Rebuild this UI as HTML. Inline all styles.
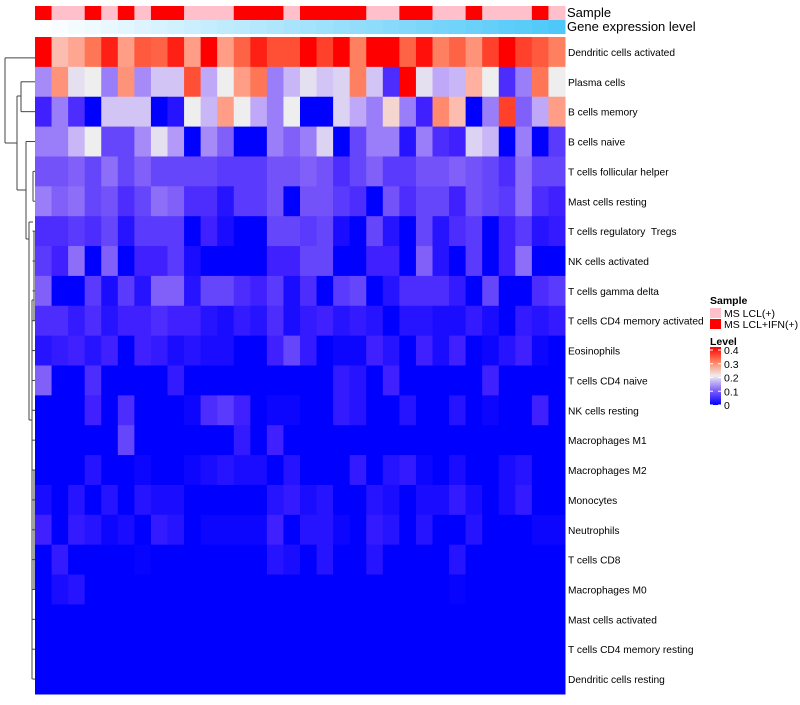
<!DOCTYPE html>
<html><head><meta charset="utf-8"><style>
body{margin:0;background:#fff;font-family:"Liberation Sans",sans-serif;}
svg text{font-family:"Liberation Sans",sans-serif;white-space:pre;}
</style></head><body>
<svg id="chart" width="800" height="700" viewBox="0 0 800 700" xmlns="http://www.w3.org/2000/svg">
<g id="dendro" fill="none" stroke="#444" stroke-width="1"></g>
<g id="cells"></g>
<g id="ann"></g>
<g id="labels" font-size="10.2" fill="#000"></g>
<text x="567" y="17" font-size="13">Sample</text>
<text x="567" y="31" font-size="13">Gene expression level</text>
<g font-size="10.5">
<text x="710" y="304" font-weight="bold">Sample</text>
<rect x="710" y="308" width="11" height="10" fill="#ffc0cb"/>
<text x="724" y="317">MS LCL(+)</text>
<rect x="710" y="319" width="11" height="10" fill="#ff0000"/>
<text x="724" y="328">MS LCL+IFN(+)</text>
<text x="710" y="345" font-weight="bold">Level</text>
<defs><linearGradient id="lg" x1="0" y1="1" x2="0" y2="0">
<stop offset="0" stop-color="#0000ff"/><stop offset="0.25" stop-color="#8060f8"/><stop offset="0.5" stop-color="#eeeeee"/><stop offset="0.75" stop-color="#ff8060"/><stop offset="1" stop-color="#ff0000"/></linearGradient></defs>
<rect x="710" y="347" width="11" height="58" fill="url(#lg)"/>
<g id="lticks"></g>
</g>
</svg>
<script>
const rowNames=["Dendritic cells activated","Plasma cells","B cells memory","B cells naive","T cells follicular helper","Mast cells resting","T cells regulatory  Tregs","NK cells activated","T cells gamma delta","T cells CD4 memory activated","Eosinophils","T cells CD4 naive","NK cells resting","Macrophages M1","Macrophages M2","Monocytes","Neutrophils","T cells CD8","Macrophages M0","Mast cells activated","T cells CD4 memory resting","Dendritic cells resting"];
const sampleGroups=[1,0,0,1,0,1,0,1,1,0,0,0,1,1,1,0,1,1,1,1,0,0,1,1,0,0,1,0,0,0,1,0];
const levelTicks=[0,0.1,0.2,0.3,0.4];
const z=[
[.4,.24,.26,.31,.38,.27,.34,.33,.38,.27,.4,.27,.33,.38,.35,.35,.4,.36,.4,.3,.4,.4,.33,.39,.3,.33,.28,.36,.4,.36,.34,.3],
[.13,.28,.19,.2,.12,.28,.13,.17,.17,.35,.15,.2,.27,.31,.12,.16,.19,.17,.18,.3,.17,.06,.4,.19,.15,.16,.25,.2,.06,.12,.31,.2],
[.05,.12,.06,0,.17,.17,.17,0,.03,.2,.16,.27,.2,.15,.12,.2,0,0,.18,.15,.12,.22,.12,.05,.29,.24,0,.12,.36,.1,.15,.27],
[.12,.12,.16,.2,.08,.08,.13,.19,.14,0,.13,.1,0,0,.12,.1,.12,.18,0,.08,.12,.12,.03,.12,.06,.05,.18,.16,0,.12,0,.07],
[.09,.09,.1,.08,.11,.08,.1,.08,.08,.08,.08,.07,.07,.07,.09,.09,.1,.09,.06,.08,.1,.07,.07,.09,.09,.1,.09,.08,.06,.11,.08,.08],
[.12,.1,.11,.08,.09,.06,.08,.11,.1,.06,.06,.03,.07,.07,.09,0,.09,.09,.07,.06,0,.09,.06,.08,.08,.05,.09,.08,.07,.11,.06,.05],
[.06,.06,.07,.06,.08,.03,.07,.07,.07,0,.05,.02,0,0,.08,.08,.07,.08,.02,0,.08,.03,0,.08,.03,.06,.07,0,.05,.07,.03,.04],
[.07,.05,.11,0,.1,0,.05,.05,.07,.02,0,0,0,0,.05,.05,.08,.08,0,0,.05,.05,0,.1,.03,0,.07,0,.05,.11,0,0],
[.1,0,0,.07,.02,.07,.03,.1,.1,.03,.08,.08,.06,.05,.07,.02,.06,0,.07,.08,0,.03,.06,.06,.06,.04,0,.08,0,0,.06,.07],
[.06,.06,.04,.06,.03,.05,.05,.06,.05,.05,.03,.02,.04,.03,.06,.02,.04,.05,.03,.04,.03,0,.03,.03,.02,.02,.04,.02,0,.04,.03,.04],
[.03,.04,.05,.03,.05,0,.05,.04,.02,.03,.02,.02,0,0,.05,.08,.04,0,.01,.01,.05,.03,0,.05,.02,.05,0,.01,.03,.05,.01,0],
[.1,0,0,.06,0,0,0,0,.04,0,0,0,0,0,0,0,0,0,.04,.03,0,.05,0,0,0,0,0,.05,0,0,0,0],
[0,0,0,.05,0,.06,0,0,0,.01,.06,.07,.05,0,.01,.01,0,0,.04,.03,0,0,.03,0,0,.03,0,.01,0,0,.05,0],
[0,0,0,0,0,.08,0,0,0,0,0,0,.04,0,.05,0,0,0,0,0,0,0,0,0,0,0,0,0,0,0,0,0],
[0,0,0,.03,0,0,.01,0,0,.01,.02,.03,.02,.02,0,.03,0,0,0,.04,0,.03,.04,.01,0,.02,0,0,.02,.03,0,0],
[.02,0,.03,0,.03,0,.03,.02,.02,0,0,0,0,0,.03,.04,.02,.03,0,0,.03,.02,0,.02,.02,.04,.02,0,.02,.04,0,0],
[.05,0,.04,.03,.01,.02,0,.04,.03,0,.01,.01,.01,.01,.05,0,.03,.03,.01,0,.04,.03,0,.03,0,0,.03,0,0,0,.01,.01],
[0,.04,0,0,0,0,.005,0,0,0,0,0,0,0,.03,.02,0,.03,0,0,.03,0,0,0,0,.03,0,0,0,0,0,0],
[0,.02,.03,0,0,0,0,0,0,0,0,0,0,0,0,0,0,0,0,0,0,0,0,0,0,.005,0,0,0,0,0,0],
[0,0,0,0,0,0,0,0,0,0,0,0,0,0,0,0,0,0,0,0,0,0,0,0,0,0,0,0,0,0,0,0],
[0,0,0,0,0,0,0,0,0,0,0,0,0,0,0,0,0,0,0,0,0,0,0,0,0,0,0,0,0,0,0,0],
[0,0,0,0,0,0,0,0,0,0,0,0,0,0,0,0,0,0,0,0,0,0,0,0,0,0,0,0,0,0,0,0]];
const NS="http://www.w3.org/2000/svg";
const X0=35,X1=565,Y0=37,Y1=694;
const nC=sampleGroups.length,nR=rowNames.length;
const cw=(X1-X0)/nC,rh=(Y1-Y0)/nR;
const xs=c=>X0+c*cw, ys=r=>Y0+r*rh;
const stops=[[0,[0,0,255]],[.05,[64,32,255]],[.1,[128,96,248]],[.15,[192,168,248]],[.2,[238,238,238]],[.25,[255,176,160]],[.3,[255,128,96]],[.35,[255,80,53]],[.4,[255,0,0]]];
function col(v){v=Math.max(0,Math.min(.4,v));for(let i=1;i<stops.length;i++){if(v<=stops[i][0]){const a=stops[i-1],b=stops[i],t=(v-a[0])/(b[0]-a[0]);return 'rgb('+a[1].map((q,k)=>Math.round(q+(b[1][k]-q)*t)).join(',')+')';}}return 'rgb(255,0,0)';}
function mk(t,a,p){const e=document.createElementNS(NS,t);for(const k in a)e.setAttribute(k,a[k]);p.appendChild(e);return e;}
const cells=document.getElementById('cells');
z.forEach((row,r)=>row.forEach((v,c)=>{const e=mk('rect',{x:xs(c),y:ys(r),width:cw+0.5,height:rh+0.5,fill:col(v)},cells);

}));
const ann=document.getElementById('ann');
sampleGroups.forEach((g,c)=>{const e=mk('rect',{x:xs(c),y:6,width:cw+0.5,height:14,fill:g?'#ff0000':'#ffc0cb'},ann);


const t=c/(nC-1);const rr=Math.round(255+(78-255)*t),gg=Math.round(255+(200-255)*t),bb=Math.round(255+(248-255)*t);
const f=mk('rect',{x:xs(c),y:20,width:cw+0.5,height:14,fill:`rgb(${rr},${gg},${bb})`},ann);

});
const lab=document.getElementById('labels');
rowNames.forEach((n,r)=>{const e=mk('text',{x:568,y:ys(r)+rh/2+4},lab);e.textContent=n;

});
const lt=document.getElementById('lticks');
levelTicks.forEach(v=>{const y=405-v/0.4*55;
const e=mk('text',{x:724,y:y+4,'font-size':'10.5'},lt);e.textContent=v===0?'0':String(v);


mk('line',{x1:710,x2:713,y1:y,y2:y,stroke:'#fff'},lt);mk('line',{x1:718,x2:721,y1:y,y2:y,stroke:'#fff'},lt);});
const d=document.getElementById('dendro');
const cy=r=>ys(r)+rh/2;
function seg(x1,y1,x2,y2){mk('line',{x1,y1,x2,y2},d);}
seg(5,cy(0)+6,5,143);seg(5,cy(0)+6,35,cy(0)+6);seg(5,143,17,143);
seg(17,96,17,190);seg(17,96,21,96);seg(21,cy(1),21,cy(2));seg(21,cy(1),35,cy(1));seg(21,cy(2),35,cy(2));
seg(17,190,26,190);seg(26,cy(3),26,239);seg(26,cy(3),35,cy(3));seg(26,239,29,239);
seg(29,222,29,420);seg(29,222,33,222);seg(29,420,32,420);
seg(33,cy(4),33,cy(5));seg(33,cy(4),35,cy(4));seg(33,cy(5),35,cy(5));
seg(32,300,32,cy(21));seg(32,300,34,300);
for(let r=6;r<nR;r++){seg(32.5,cy(r),35,cy(r));}
seg(34,cy(6),34,cy(9));seg(34,cy(14),34,cy(18));
</script>
</body></html>
